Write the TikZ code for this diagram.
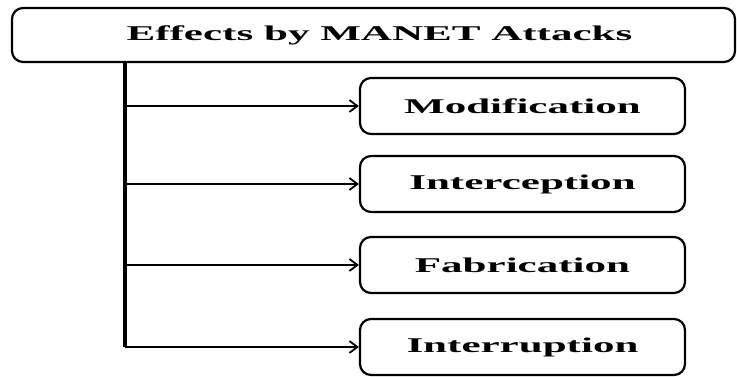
\documentclass[tikz,border=0pt]{standalone}
\usepackage{graphicx}
\usepackage{fontspec}
\setmainfont{Liberation Serif}
\usetikzlibrary{arrows.meta}
\tikzset{
  boxstyle/.style={draw=black, line width=2.2pt, rounded corners=11pt, inner sep=0pt,
    font=\fontsize{21pt}{24pt}\selectfont\bfseries},
  childbox/.style={boxstyle, minimum width=325pt, minimum height=56pt},
  trunk/.style={draw=black, line width=3.4pt},
  branch/.style={draw=black, line width=1.8pt, -{Straight Barb[length=8pt,width=12pt,line width=1.8pt]}}
}
\newcommand{\wide}[1]{\scalebox{2.05}[1]{#1}}
\begin{document}
\begin{tikzpicture}[x=1pt,y=-1pt]
\useasboundingbox (0,0) rectangle (737,377);
\node[boxstyle, minimum width=723pt, minimum height=54pt] (top) at (373.5,35) {\hspace*{12pt}\wide{Effects by MANET Attacks}};
\node[childbox] (m1) at (522.5,106) {\wide{Modification}};
\node[childbox] (m2) at (522.5,184) {\wide{Interception}};
\node[childbox] (m3) at (522.5,265) {\wide{Fabrication}};
\node[childbox] (m4) at (522.5,347) {\wide{Interruption}};
\coordinate (tr) at (125,347);
\draw[trunk] (top.south -| tr) -- (tr);
\foreach \n in {m1,m2,m3,m4}{
  \draw[branch] (tr |- \n.west) -- (\n.west);
}
\end{tikzpicture}
\end{document}
